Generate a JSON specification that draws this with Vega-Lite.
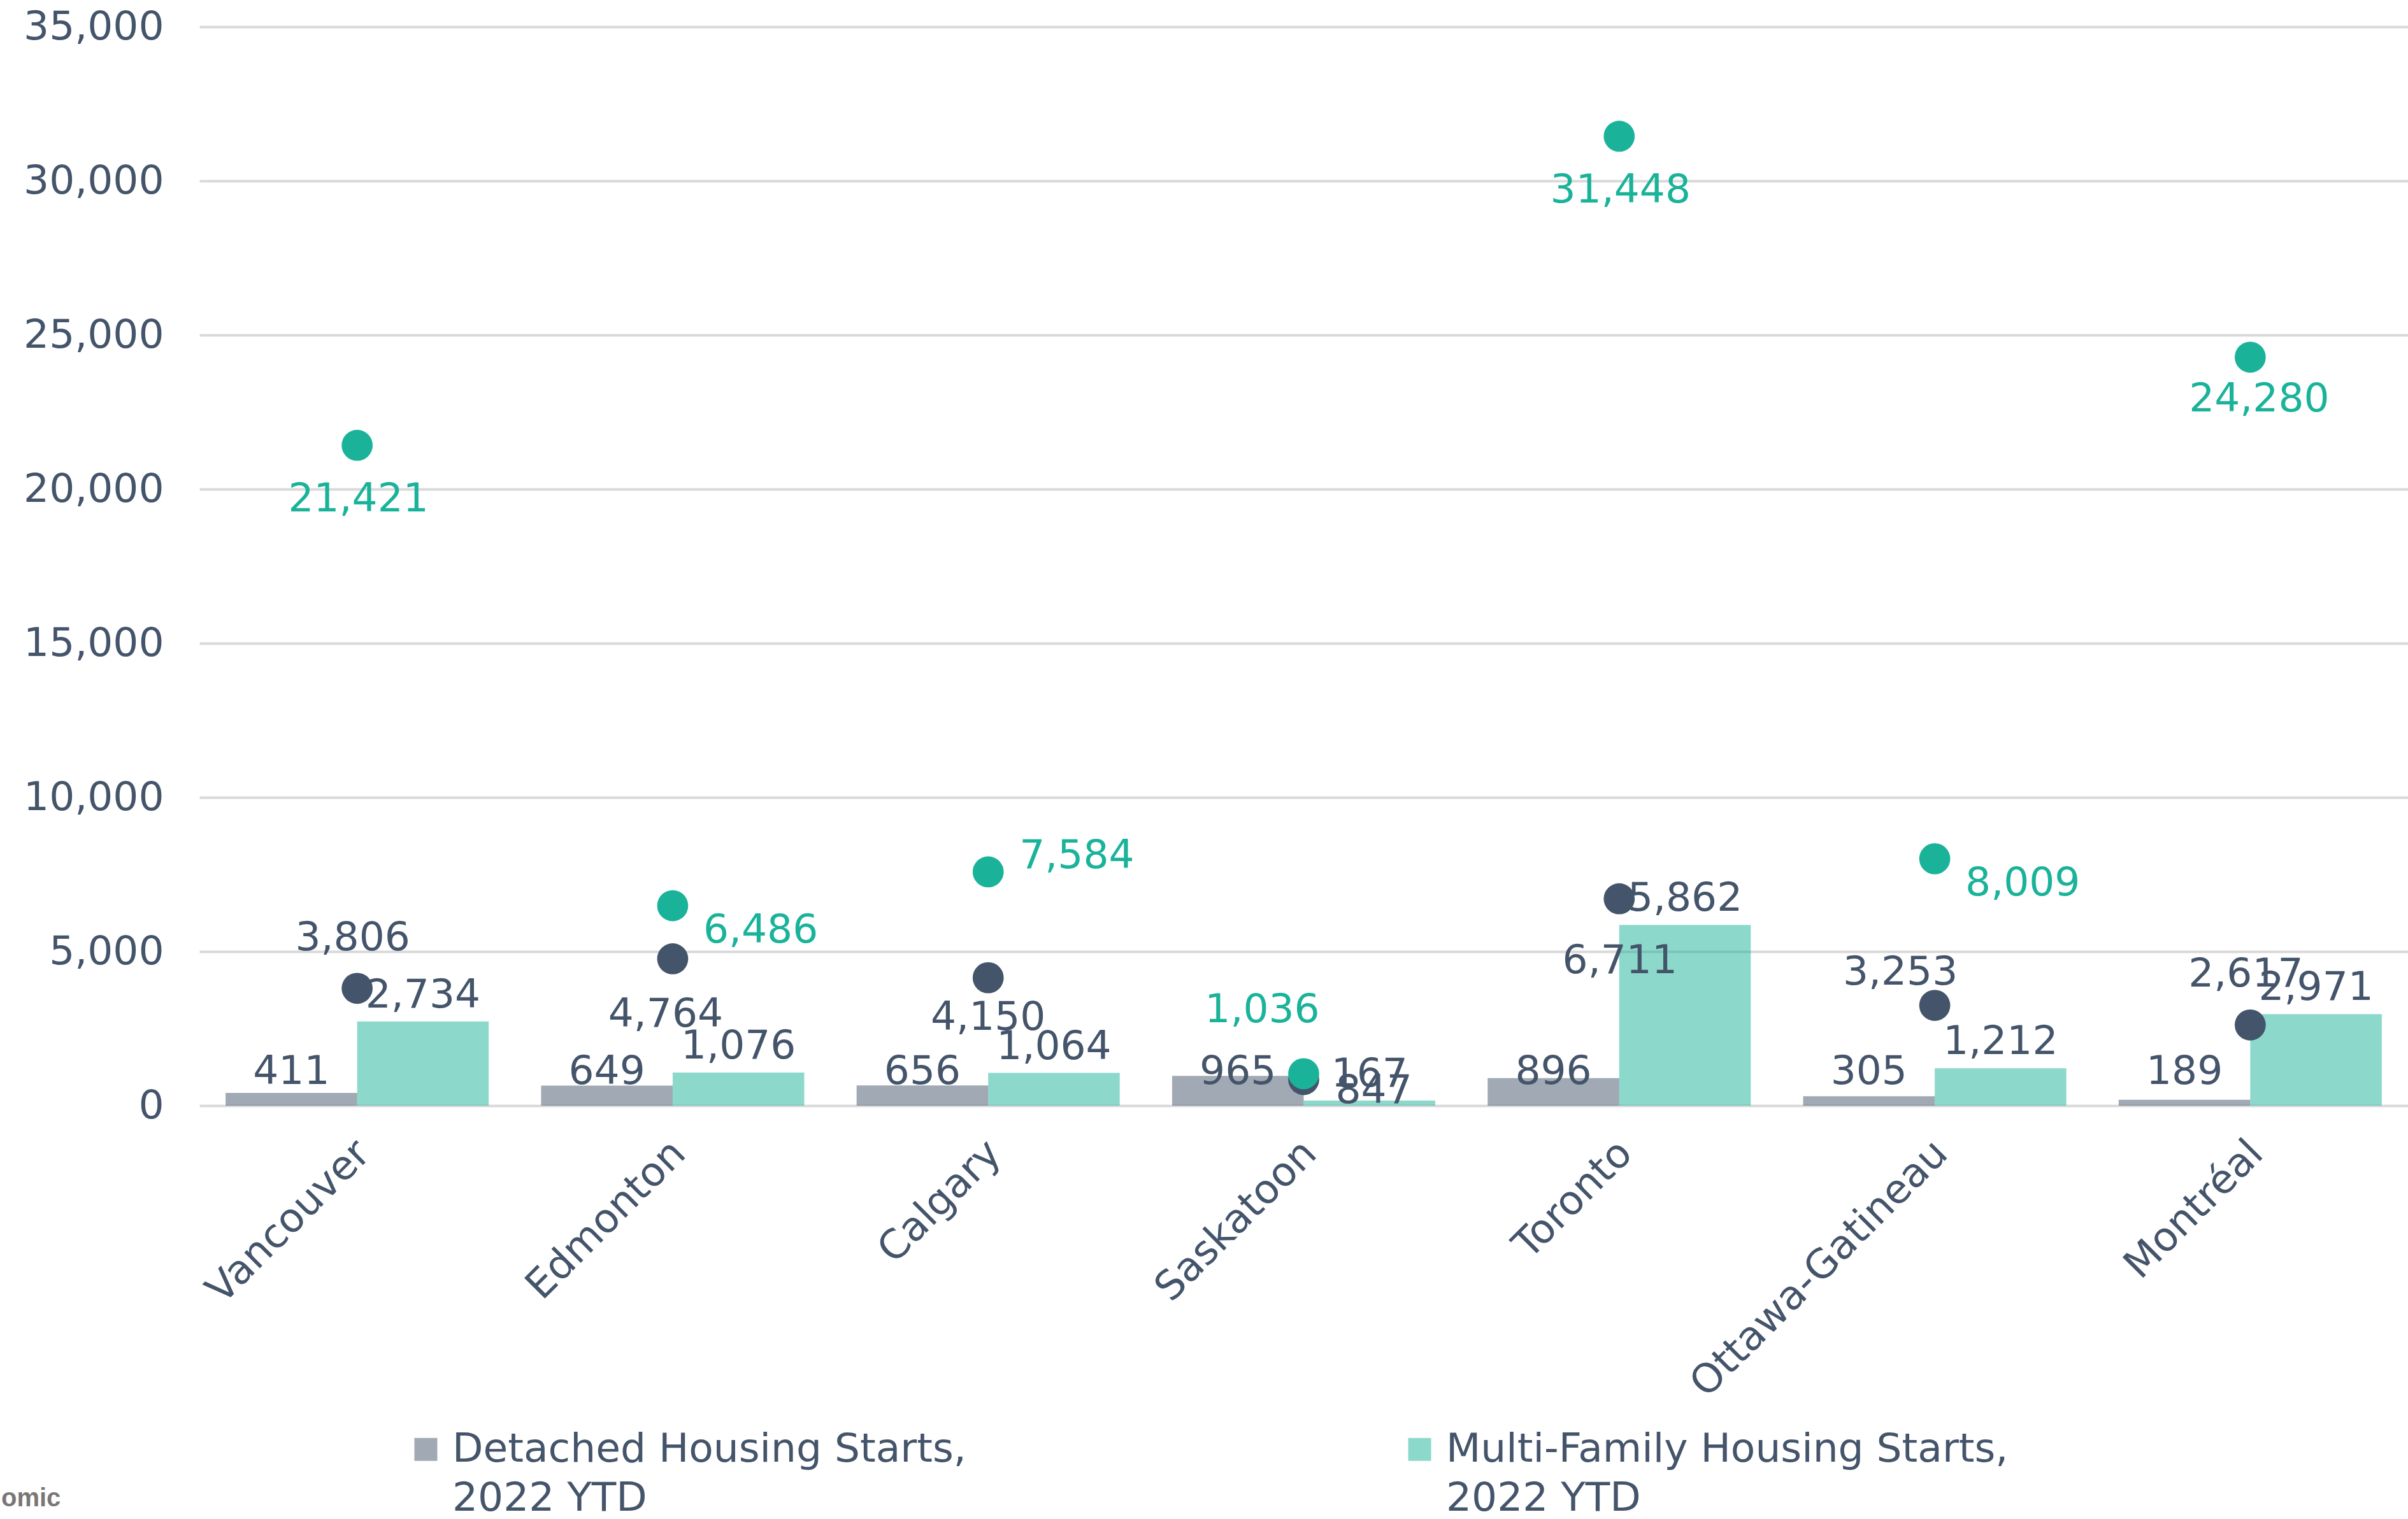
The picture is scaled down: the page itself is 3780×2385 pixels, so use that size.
{
  "$schema": "https://vega.github.io/schema/vega-lite/v6.json",
  "width": 3467,
  "height": 1694,
  "autosize": "none",
  "padding": {"left": 313, "top": 42, "right": 0, "bottom": 649},
  "background": "white",
  "config": {
    "view": {"stroke": null},
    "font": "DejaVu Sans",
    "style": {"guide-label": {"lineHeight": 77}},
    "axisY": {
      "grid": true,
      "gridColor": "#D9D9D9",
      "gridWidth": 4,
      "domain": false,
      "ticks": false,
      "tickSize": 0,
      "labelFontSize": 63,
      "labelColor": "#44546A",
      "labelFont": "DejaVu Sans",
      "labelPadding": 56,
      "labelLimit": 600,
      "tickCount": 7,
      "title": null
    }
  },
  "title": {
    "text": "omic",
    "orient": "bottom",
    "anchor": "start",
    "frame": "group",
    "font": "Liberation Sans",
    "fontWeight": "bold",
    "fontSize": 40,
    "color": "#7B7676",
    "baseline": "alphabetic",
    "dx": -311,
    "offset": -20
  },
  "data": {
    "values": [
      {"city": "Vancouver", "Detached Housing Starts, 2022 YTD": 411, "Multi-Family Housing Starts, 2022 YTD": 2734, "dot_1": 3806, "dot_2": 21421},
      {"city": "Edmonton", "Detached Housing Starts, 2022 YTD": 649, "Multi-Family Housing Starts, 2022 YTD": 1076, "dot_1": 4764, "dot_2": 6486},
      {"city": "Calgary", "Detached Housing Starts, 2022 YTD": 656, "Multi-Family Housing Starts, 2022 YTD": 1064, "dot_1": 4150, "dot_2": 7584},
      {"city": "Saskatoon", "Detached Housing Starts, 2022 YTD": 965, "Multi-Family Housing Starts, 2022 YTD": 167, "dot_1": 847, "dot_2": 1036},
      {"city": "Toronto", "Detached Housing Starts, 2022 YTD": 896, "Multi-Family Housing Starts, 2022 YTD": 5862, "dot_1": 6711, "dot_2": 31448},
      {"city": "Ottawa-Gatineau", "Detached Housing Starts, 2022 YTD": 305, "Multi-Family Housing Starts, 2022 YTD": 1212, "dot_1": 3253, "dot_2": 8009},
      {"city": "Montréal", "Detached Housing Starts, 2022 YTD": 189, "Multi-Family Housing Starts, 2022 YTD": 2971, "dot_1": 2617, "dot_2": 24280}
    ]
  },
  "encoding": {
    "x": {
      "field": "city",
      "type": "nominal",
      "sort": null,
      "title": null,
      "scale": {"paddingInner": 0.166, "paddingOuter": 0.083},
      "axis": {
        "labelAngle": -45,
        "labelFontSize": 63,
        "labelColor": "#44546A",
        "labelFont": "DejaVu Sans",
        "labelPadding": 43,
        "labelOffset": -12,
        "domain": false,
        "ticks": false,
        "tickSize": 0,
        "grid": false,
        "labelLimit": 2000
      }
    }
  },
  "layer": [
    {
      "transform": [
        {"fold": ["Detached Housing Starts, 2022 YTD", "Multi-Family Housing Starts, 2022 YTD"], "as": ["series", "starts"]}
      ],
      "layer": [
        {
          "mark": {"type": "bar", "opacity": 0.5},
          "encoding": {
            "xOffset": {"field": "series", "type": "nominal", "scale": {"paddingInner": 0, "paddingOuter": 0}},
            "y": {
              "field": "starts",
              "type": "quantitative",
              "title": null,
              "scale": {"domain": [0, 35000]}
            },
            "color": {
              "field": "series",
              "type": "nominal",
              "scale": {"range": ["#44546A", "#1AB39A"]},
              "legend": {
                "orient": "none",
                "legendX": 324,
                "legendY": 2202,
                "direction": "horizontal",
                "title": null,
                "symbolType": "square",
                "symbolSize": 1296,
                "symbolOpacity": 0.5,
                "symbolStrokeWidth": 0,
                "labelFontSize": 63,
                "labelColor": "#44546A",
                "labelFont": "DejaVu Sans",
                "labelLimit": 3000,
                "labelOffset": 10,
                "columnPadding": 680,
                "labelBaseline": "middle",
                "labelExpr": "[replace(datum.label, ' 2022 YTD', ''), '2022 YTD']"
              }
            }
          }
        },
        {
          "transform": [{"filter": "datum.series === 'Detached Housing Starts, 2022 YTD'"}],
          "mark": {"type": "text", "dy": -34, "baseline": "alphabetic", "align": "center", "fontSize": 63, "color": "#44546A"},
          "encoding": {
            "xOffset": {"field": "series", "type": "nominal"},
            "y": {"datum": 0, "title": null},
            "text": {"field": "starts", "type": "quantitative", "format": ","}
          }
        },
        {
          "transform": [{"filter": "datum.series === 'Multi-Family Housing Starts, 2022 YTD'"}],
          "mark": {"type": "text", "dy": -22, "baseline": "alphabetic", "align": "center", "fontSize": 63, "color": "#44546A"},
          "encoding": {
            "xOffset": {"field": "series", "type": "nominal"},
            "y": {"field": "starts", "type": "quantitative", "title": null},
            "text": {"field": "starts", "type": "quantitative", "format": ","}
          }
        }
      ]
    },
    {
      "mark": {"type": "circle", "size": 2376, "opacity": 1, "color": "#44546A"},
      "encoding": {"y": {"field": "dot_1", "type": "quantitative", "title": null}}
    },
    {
      "mark": {"type": "circle", "size": 2376, "opacity": 1, "color": "#1AB39A"},
      "encoding": {"y": {"field": "dot_2", "type": "quantitative", "title": null}}
    },
    {
      "transform": [{"filter": {"field": "city", "oneOf": ["Vancouver", "Montréal"]}}],
      "mark": {"type": "text", "dx": -7, "dy": -60, "baseline": "alphabetic", "align": "center", "fontSize": 63, "color": "#44546A"},
      "encoding": {"y": {"field": "dot_1", "type": "quantitative", "title": null}, "text": {"field": "dot_1", "type": "quantitative", "format": ","}}
    },
    {
      "transform": [{"filter": {"field": "city", "oneOf": ["Ottawa-Gatineau"]}}],
      "mark": {"type": "text", "dx": -54, "dy": -33, "baseline": "alphabetic", "align": "center", "fontSize": 63, "color": "#44546A"},
      "encoding": {"y": {"field": "dot_1", "type": "quantitative", "title": null}, "text": {"field": "dot_1", "type": "quantitative", "format": ","}}
    },
    {
      "transform": [{"filter": {"field": "city", "oneOf": ["Edmonton"]}}],
      "mark": {"type": "text", "dx": -11, "dy": 107, "baseline": "alphabetic", "align": "center", "fontSize": 63, "color": "#44546A"},
      "encoding": {"y": {"field": "dot_1", "type": "quantitative", "title": null}, "text": {"field": "dot_1", "type": "quantitative", "format": ","}}
    },
    {
      "transform": [{"filter": {"field": "city", "oneOf": ["Toronto"]}}],
      "mark": {"type": "text", "dx": 1, "dy": 117, "baseline": "alphabetic", "align": "center", "fontSize": 63, "color": "#44546A"},
      "encoding": {"y": {"field": "dot_1", "type": "quantitative", "title": null}, "text": {"field": "dot_1", "type": "quantitative", "format": ","}}
    },
    {
      "transform": [{"filter": {"field": "city", "oneOf": ["Calgary"]}}],
      "mark": {"type": "text", "dx": 0, "dy": 82, "baseline": "alphabetic", "align": "center", "fontSize": 63, "color": "#44546A"},
      "encoding": {"y": {"field": "dot_1", "type": "quantitative", "title": null}, "text": {"field": "dot_1", "type": "quantitative", "format": ","}}
    },
    {
      "transform": [{"filter": {"field": "city", "oneOf": ["Saskatoon"]}}],
      "mark": {"type": "text", "dx": 50, "dy": 37, "baseline": "alphabetic", "align": "left", "fontSize": 63, "color": "#44546A"},
      "encoding": {"y": {"field": "dot_1", "type": "quantitative", "title": null}, "text": {"field": "dot_1", "type": "quantitative", "format": ","}}
    },
    {
      "transform": [{"filter": {"field": "city", "oneOf": ["Vancouver", "Toronto"]}}],
      "mark": {"type": "text", "dx": 2, "dy": 104, "baseline": "alphabetic", "align": "center", "fontSize": 63, "color": "#1AB39A"},
      "encoding": {"y": {"field": "dot_2", "type": "quantitative", "title": null}, "text": {"field": "dot_2", "type": "quantitative", "format": ","}}
    },
    {
      "transform": [{"filter": {"field": "city", "oneOf": ["Montréal"]}}],
      "mark": {"type": "text", "dx": 14, "dy": 85, "baseline": "alphabetic", "align": "center", "fontSize": 63, "color": "#1AB39A"},
      "encoding": {"y": {"field": "dot_2", "type": "quantitative", "title": null}, "text": {"field": "dot_2", "type": "quantitative", "format": ","}}
    },
    {
      "transform": [{"filter": {"field": "city", "oneOf": ["Edmonton", "Ottawa-Gatineau"]}}],
      "mark": {"type": "text", "dx": 48, "dy": 58, "baseline": "alphabetic", "align": "left", "fontSize": 63, "color": "#1AB39A"},
      "encoding": {"y": {"field": "dot_2", "type": "quantitative", "title": null}, "text": {"field": "dot_2", "type": "quantitative", "format": ","}}
    },
    {
      "transform": [{"filter": {"field": "city", "oneOf": ["Calgary"]}}],
      "mark": {"type": "text", "dx": 49, "dy": -6, "baseline": "alphabetic", "align": "left", "fontSize": 63, "color": "#1AB39A"},
      "encoding": {"y": {"field": "dot_2", "type": "quantitative", "title": null}, "text": {"field": "dot_2", "type": "quantitative", "format": ","}}
    },
    {
      "transform": [{"filter": {"field": "city", "oneOf": ["Saskatoon"]}}],
      "mark": {"type": "text", "dx": -65, "dy": -81, "baseline": "alphabetic", "align": "center", "fontSize": 63, "color": "#1AB39A"},
      "encoding": {"y": {"field": "dot_2", "type": "quantitative", "title": null}, "text": {"field": "dot_2", "type": "quantitative", "format": ","}}
    }
  ]
}
